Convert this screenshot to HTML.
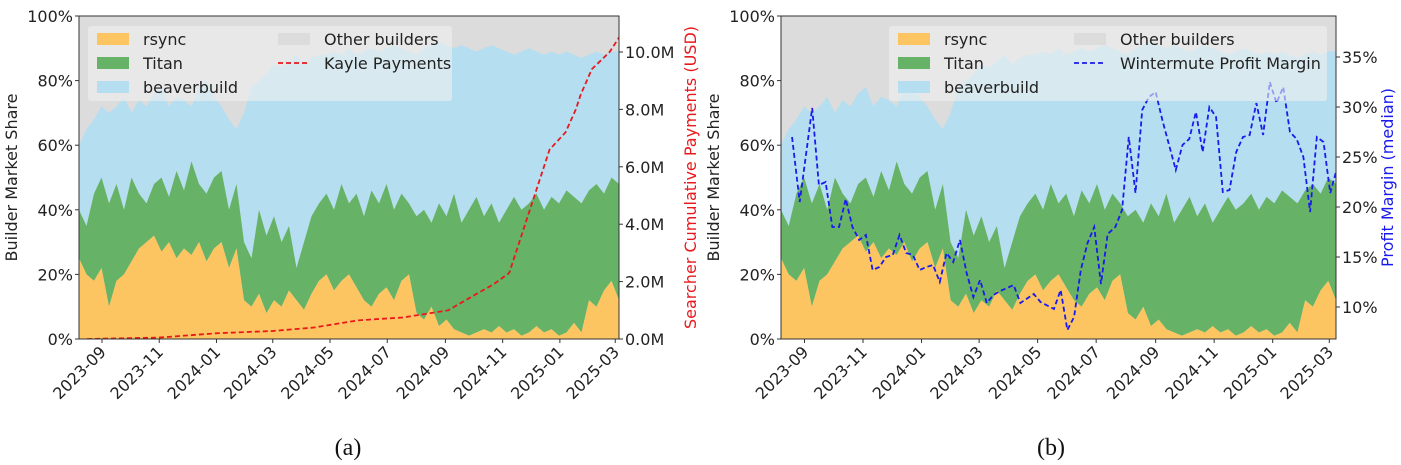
<!DOCTYPE html>
<html><head><meta charset="utf-8"><style>
body{margin:0;background:#fff;}
svg{display:block;font-family:"DejaVu Sans","Liberation Sans",sans-serif;}
</style></head><body>
<svg id="c" width="1401" height="465"></svg>
<script>
// shared builder share data (cumulative tops, %), evenly sampled across the date range
const rsyncTop=[25,20,18,22,10,18,20,24,28,30,32,27,30,25,28,26,30,24,28,30,22,28,12,10,14,8,12,10,15,12,9,14,18,20,15,18,20,16,12,10,14,16,12,18,20,8,6,10,4,6,3,2,1,2,3,2,4,2,3,1,2,4,2,3,1,2,5,2,12,10,15,18,12];
const titanTop=[40,35,45,50,42,48,40,50,45,42,48,50,44,52,46,55,48,45,50,52,40,48,30,25,40,32,38,30,35,22,30,38,42,45,40,48,42,45,38,46,42,48,40,45,42,38,40,36,42,38,45,36,40,44,38,42,36,40,44,40,42,45,40,44,42,46,44,42,46,48,45,50,48];
const beaverTop=[60,65,68,72,70,72,75,70,74,72,76,78,72,75,74,72,78,80,75,72,68,65,70,78,80,82,85,84,86,88,85,87,88,88,89,88,90,88,89,90,89,90,91,90,89,88,90,91,92,91,90,91,90,89,90,91,90,89,88,89,90,89,88,89,88,89,88,87,88,89,88,89,89];
// Kayle payments (M USD)
const kayleDays=[-16,61,122,182,226,273,321,369,398,417,434,441,455,464,477,494,505,510,522,541,553];
const kayleVals=[0,0.05,0.2,0.28,0.4,0.65,0.75,1.0,1.55,1.9,2.3,3.0,4.4,5.3,6.6,7.2,8.0,8.5,9.4,10.0,10.6];
// Wintermute margin (%)
const wmDays=[-13,-5,8,15,22,29,36,43,50,57,64,71,78,85,92,99,106,113,120,127,134,141,148,155,162,169,176,183,190,197,204,218,225,239,246,260,267,274,281,288,295,302,309,316,324,331,338,345,352,359,366,373,387,394,401,408,415,422,429,436,443,450,457,464,471,478,485,492,499,506,513,520,527,534,541,548,554];
const wmVals=[27,20.5,29.9,22.2,22.5,18,18,20.8,18,16.7,17.2,13.7,14,15,15.2,17.2,15.4,15.2,13.7,14,14.2,12.5,15.4,14.5,16.7,13.4,11,12.7,10.4,11.2,11.6,12.2,10.4,11.3,10.5,9.8,11.7,7.7,9,13.7,16.4,18,12.3,17.3,18,19.7,27,21.4,29.7,31,31.5,28.7,23.7,26.2,26.8,29.5,25.5,30,29,21.5,21.7,25.5,27,27.2,30.4,27.2,32.5,30.4,32,27.5,26.8,25,19.5,27,26.5,21.4,23.5];
const xTicks=["2023-09","2023-11","2024-01","2024-03","2024-05","2024-07","2024-09","2024-11","2025-01","2025-03"];
const xTickDays=[0,61,122,182,243,304,366,427,488,547];
const yTicks=[0,20,40,60,80,100];
const kTicks=[0,2,4,6,8,10];
const wTicks=[10,15,20,25,30,35];

const svg=document.getElementById('c');
const NS='http://www.w3.org/2000/svg';
function mk(t,a,p){const e=document.createElementNS(NS,t);for(const k in a)e.setAttribute(k,a[k]);(p||svg).appendChild(e);return e;}
const N=Math.min(rsyncTop.length,titanTop.length,beaverTop.length);
const defs=mk('defs',{});

function panel(o){
  const g=mk('g',{});
  
  
  const cp=mk('clipPath',{id:'clip-'+o.name},defs);
  mk('rect',{x:o.x0,y:o.y0,width:o.x1-o.x0,height:o.y1-o.y0},cp);
  const X=d=>o.x0+(d+24.5)*(o.x1-o.x0)/(o.dEnd+24.5);
  const Y=v=>o.y1-(v/100)*(o.y1-o.y0);
  const sd=[];for(let i=0;i<N;i++)sd.push(-24.5+i*(o.dEnd+24.5)/(N-1));
  const pg=mk('g',{'clip-path':'url(#clip-'+o.name+')'},g);
  mk('rect',{x:o.x0,y:o.y0,width:o.x1-o.x0,height:o.y1-o.y0,fill:'#dcdcdc'},pg);
  function area(top,bot,col,name){
    let d='';
    for(let i=0;i<N;i++)d+=(i?'L':'M')+X(sd[i])+','+Y(top[i]);
    for(let i=N-1;i>=0;i--)d+='L'+X(sd[i])+','+Y(bot?bot[i]:0);
    d+='Z';
    const p=mk('path',{d:d,fill:col},pg);
    
    
  }
  area(beaverTop,titanTop,'#b5def0','beaverbuild-area');
  area(titanTop,rsyncTop,'#66b266','titan-area');
  area(rsyncTop,null,'#fcc562','rsync-area');
  let ld='';
  for(let i=0;i<o.ldays.length;i++)ld+=(i?'L':'M')+X(o.ldays[i])+','+o.LY(o.lvals[i]);
  const ln=mk('path',{d:ld,fill:'none',stroke:o.lcol,'stroke-width':1.8,'stroke-dasharray':'5,3'},pg);
  
  
  // legend
  const lg=mk('g',{},g);
  
  
  mk('rect',{x:o.lx,y:26,width:o.lw,height:75,rx:3,fill:'rgba(240,240,240,0.6)'},lg);
  const ents=[['rsync','#fcc562',0,0],['Titan','#66b266',0,1],['beaverbuild','#b5def0',0,2],['Other builders','#dcdcdc',1,0]];
  ents.forEach(e=>{const bx=o.lx+9+e[2]*o.col2;const by=33+e[3]*24;
    mk('rect',{x:bx,y:by,width:32,height:12,fill:e[1]},lg);
    const t=mk('text',{x:bx+46,y:by+12,'font-size':16,fill:'#222'},lg);t.textContent=e[0];
    });
  const bx=o.lx+9+o.col2;
  mk('line',{x1:bx,y1:63,x2:bx+32,y2:63,stroke:o.lcol,'stroke-width':1.8,'stroke-dasharray':'5,3'},lg);
  const lt=mk('text',{x:bx+46,y:69,'font-size':16,fill:'#222'},lg);lt.textContent=o.lname2;
  
  mk('rect',{x:o.x0,y:o.y0,width:o.x1-o.x0,height:o.y1-o.y0,fill:'none',stroke:'#333','stroke-width':1},g);
  yTicks.forEach(v=>{const y=Y(v);mk('line',{x1:o.x0-4,y1:y,x2:o.x0,y2:y,stroke:'#333'},g);
    const t=mk('text',{x:o.x0-6,y:y+6,'font-size':16,'text-anchor':'end',fill:'#222'},g);t.textContent=v+'%';});
  const yl=mk('text',{x:0,y:0,'font-size':16,'text-anchor':'middle',fill:'#222',transform:`translate(${o.x0-62},${(o.y0+o.y1)/2}) rotate(-90)`},g);
  yl.textContent='Builder Market Share';
  
  o.rticks.forEach(v=>{const y=o.LY(v);mk('line',{x1:o.x1,y1:y,x2:o.x1+4,y2:y,stroke:'#333'},g);
    const t=mk('text',{x:o.x1+6,y:y+6,'font-size':16,fill:'#222'},g);t.textContent=o.rfmt(v);});
  const yr=mk('text',{x:0,y:0,'font-size':16,'text-anchor':'middle',fill:o.lcol,transform:`translate(${o.x1+o.rtOff},${(o.y0+o.y1)/2}) rotate(-90)`},g);
  yr.textContent=o.rtitle;
  
  xTicks.forEach((s,i)=>{const x=X(xTickDays[i]);mk('line',{x1:x,y1:o.y1,x2:x,y2:o.y1+4,stroke:'#333'},g);
    const t=mk('text',{x:0,y:0,'font-size':16,'text-anchor':'end',fill:'#222',transform:`translate(${x+5},${o.y1+14}) rotate(-45)`},g);t.textContent=s;});
  const cap=mk('text',{x:o.capx,y:455,'font-size':24,'text-anchor':'middle',fill:'#111','font-family':'"Liberation Serif",serif'},g);
  cap.textContent=o.cap;
  
}
panel({name:'panel-a',x0:79,x1:619,y0:16,y1:339,dEnd:551,ldays:kayleDays,lvals:kayleVals,
  LY:v=>339-v*28.7,lcol:'#e8191c',lname:'kayle-payments-line',lname2:'Kayle Payments',
  lx:88,lw:364,col2:181,rticks:kTicks,rfmt:v=>v.toFixed(1)+'M',rtitle:'Searcher Cumulative Payments (USD)',rtOff:77,capx:348,cap:'(a)'});
panel({name:'panel-b',x0:781,x1:1336,y0:16,y1:339,dEnd:554,ldays:wmDays,lvals:wmVals,
  LY:v=>307-(v-10)*10,lcol:'#1a1aee',lname:'wintermute-margin-line',lname2:'Wintermute Profit Margin',
  lx:889,lw:438,col2:176,rticks:wTicks,rfmt:v=>v+'%',rtitle:'Profit Margin (median)',rtOff:57,capx:1051,cap:'(b)'});
</script>
</body></html>
